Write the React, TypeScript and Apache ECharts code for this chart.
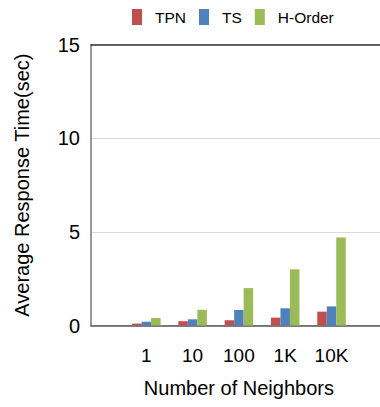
import React, { useEffect, useRef } from "react";
import * as echarts from "echarts";

const categories = ["1", "10", "100", "1K", "10K"];
const seriesNames = ["TPN", "TS", "H-Order"];
const tpnValues = [0.1, 0.23, 0.28, 0.42, 0.74];
const tsValues = [0.2, 0.33, 0.83, 0.92, 1.02];
const hOrderValues = [0.4, 0.84, 2.0, 3.0, 4.7];
const colors = ["#C0504D", "#4F81BD", "#9BBB59"];
const yMin = 0;
const yMax = 15;
const yInterval = 5;

const FONT = "'Liberation Sans', Arial, Helvetica, sans-serif";

export default function App() {
  const ref = useRef<HTMLDivElement>(null);
  useEffect(() => {
    if (!ref.current) return;
    const chart = echarts.init(ref.current, undefined, { renderer: "svg" });
    const top = 44.7;
    const bottom = 81.5;
    const values = [tpnValues, tsValues, hOrderValues];
    chart.setOption({
      animation: false,
      textStyle: { fontFamily: FONT },
      legend: {
        top: 9,
        left: 132,
        padding: 0,
        itemWidth: 10,
        itemHeight: 16,
        itemGap: 13,
        icon: "rect",
        data: seriesNames,
        textStyle: { fontSize: 15.5, color: "#000", fontFamily: FONT, padding: [0, 0, 0, 8] },
      },
      grid: [
        { left: 91, right: 0, top, bottom },
        { left: 123.15, width: 231.5, top, bottom },
      ],
      xAxis: [
        {
          gridIndex: 0,
          type: "value",
          min: 0,
          max: 1,
          axisLine: { show: true, lineStyle: { color: "#555", width: 1.5 } },
          axisTick: { show: false },
          axisLabel: { show: false },
          splitLine: { show: false },
        },
        {
          gridIndex: 0,
          type: "value",
          position: "top",
          min: 0,
          max: 1,
          axisLine: { show: true, lineStyle: { color: "#333", width: 1.5 } },
          axisTick: { show: false },
          axisLabel: { show: false },
          splitLine: { show: false },
        },
        {
          gridIndex: 1,
          type: "category",
          data: categories,
          axisLine: { show: false },
          axisTick: { show: false },
          axisLabel: { fontSize: 19, color: "#000", margin: 20, fontFamily: FONT },
          name: "Number of Neighbors",
          nameLocation: "middle",
          nameGap: 52,
          nameTextStyle: { fontSize: 20, color: "#000", fontFamily: FONT },
        },
      ],
      yAxis: [
        {
          gridIndex: 0,
          type: "value",
          min: yMin,
          max: yMax,
          interval: yInterval,
          axisLine: { show: true, lineStyle: { color: "#777", width: 1.5 } },
          axisTick: { show: false },
          axisLabel: { fontSize: 20, color: "#000", margin: 11, fontFamily: FONT },
          splitLine: { show: true, lineStyle: { color: "#d9d9d9", width: 1 } },
          name: "Average Response Time(sec)",
          nameLocation: "middle",
          nameGap: 59,
          nameTextStyle: { fontSize: 20, color: "#000", fontFamily: FONT },
        },
        {
          gridIndex: 1,
          type: "value",
          min: yMin,
          max: yMax,
          interval: yInterval,
          show: false,
          splitLine: { show: false },
        },
      ],
      series: seriesNames.map((name, i) => ({
        name,
        type: "bar",
        xAxisIndex: 2,
        yAxisIndex: 1,
        data: values[i],
        barWidth: 9.5,
        barGap: "0%",
        itemStyle: { color: colors[i] },
      })),
    });
    return () => chart.dispose();
  }, []);
  return (
    <div
      ref={ref}
      style={{ position: "fixed", left: 0, top: 0, width: 380, height: 407, background: "#fff" }}
    />
  );
}
